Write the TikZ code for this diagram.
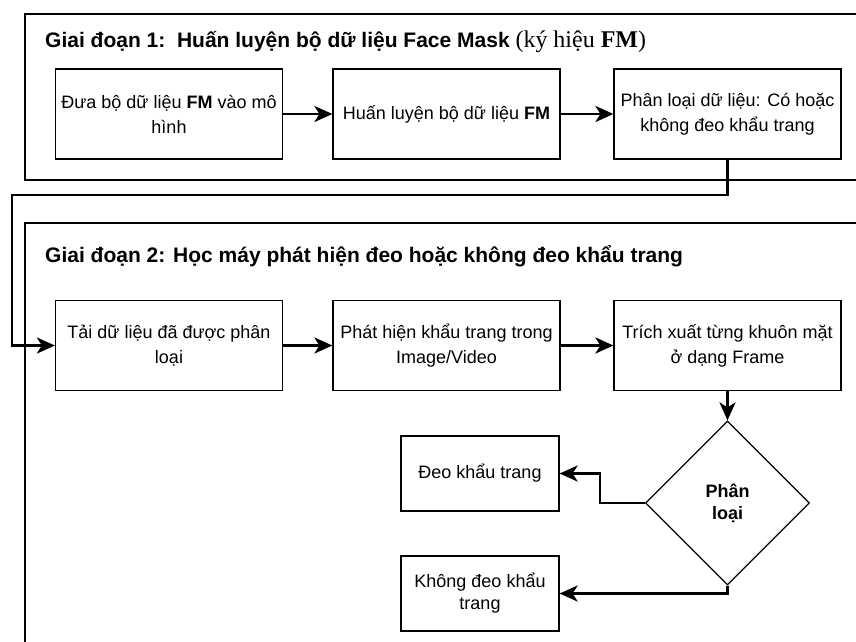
\documentclass[tikz,border=0pt]{standalone}
\usepackage{fontspec}
\setmainfont{Liberation Sans}
\newfontfamily\serifpart{Liberation Serif}
\usetikzlibrary{arrows.meta,shapes.geometric}
\tikzset{
  stagebox/.style={line width=2.6pt},
  procbox/.style={draw,line width=1.2pt,minimum width=227pt,minimum height=90pt,align=center,inner sep=2pt,font=\fontsize{18}{25}\selectfont},
  resbox/.style={procbox,minimum width=158pt,minimum height=75pt,font=\fontsize{18}{22}\selectfont},
  decide/.style={draw,diamond,line width=1.2pt,aspect=1,minimum width=164pt,minimum height=164pt,inner sep=0pt,align=center,font=\fontsize{18}{22}\selectfont\bfseries},
  conn/.style={line width=2.8pt,-{Stealth[length=18pt,width=16pt,inset=5pt]}},
  stagetitle/.style={anchor=base west,inner sep=0pt,font=\fontsize{21}{24}\selectfont\bfseries}
}
\begin{document}
\begin{tikzpicture}[x=1pt,y=-1pt]
\useasboundingbox (0,0) rectangle (856,641);
\clip (0,0) rectangle (856,641);
% stage frames
\draw [stagebox] (25,14) rectangle (900,180);
\draw [stagebox] (25,223) rectangle (900,700);
\node (title1) [stagetitle] at (45,47) {Giai đoạn 1:\ \ Huấn luyện bộ dữ liệu Face Mask {\serifpart\mdseries\fontsize{24}{26}\selectfont(ký hiệu \textbf{FM})}};
\node (title2) [stagetitle] at (45,262) {Giai đoạn 2: Học máy phát hiện đeo hoặc không đeo khẩu trang};
% stage 1
\node (feed) [procbox] at (169,114) {Đưa bộ dữ liệu \textbf{FM} vào mô\\hình};
\node (train) [procbox] at (446.5,114) {Huấn luyện bộ dữ liệu \textbf{FM}};
\node (sort) [procbox] at (727.5,114) {Phân loại dữ liệu: Có hoặc\\không đeo khẩu trang};
% stage 2
\node (load) [procbox] at (169,345.5) {Tải dữ liệu đã được phân\\loại};
\node (detect) [procbox] at (446.5,345.5) {Phát hiện khẩu trang trong\\Image/Video};
\node (extract) [procbox] at (727.5,345.5) {Trích xuất từng khuôn mặt\\ở dạng Frame};
\node (classify) [decide] at (727.5,503) {Phân\\loại};
\node (mask) [resbox] at (480,473.5) {Đeo khẩu trang};
\node (nomask) [resbox] at (480,593.5) {Không đeo khẩu\\trang};
% connectors
\draw [conn] (feed) -- (train);
\draw [conn] (train) -- (sort);
\draw [conn] (sort.south) |- (12,195) |- (load.west);
\draw [conn] (load) -- (detect);
\draw [conn] (detect) -- (extract);
\draw [conn] (extract) -- (classify);
\draw [conn] (classify.west) -- ++(-45,0) |- (mask.east);
\draw [conn] (classify.south) |- (nomask.east);
\end{tikzpicture}
\end{document}
